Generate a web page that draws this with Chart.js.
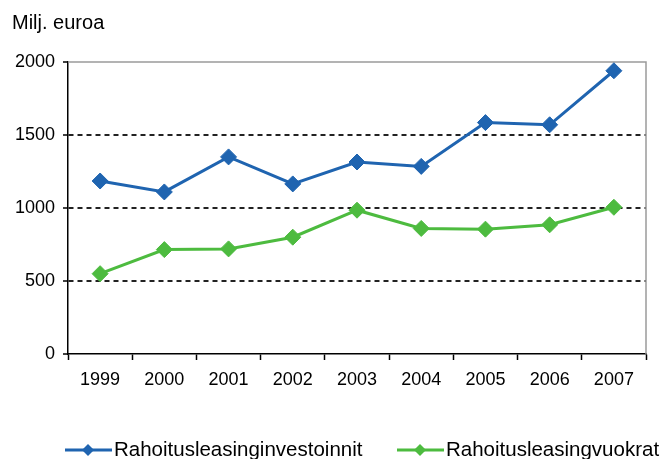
<!DOCTYPE html>
<html>
<head>
<meta charset="utf-8">
<script src="https://cdn.jsdelivr.net/npm/chart.js@4/dist/chart.umd.min.js"></script>
<style>
  html, body { margin: 0; padding: 0; background: #fff; }
  #wrap { width: 660px; height: 459px; }
</style>
</head>
<body>
<div id="wrap"><canvas id="grafLeasing" width="660" height="459"></canvas></div>
<script>
// Data
const vuodet = ['1999', '2000', '2001', '2002', '2003', '2004', '2005', '2006', '2007'];
const investoinnit = [1185, 1110, 1350, 1165, 1315, 1285, 1585, 1570, 1940];
const vuokrat = [550, 715, 720, 800, 985, 860, 855, 885, 1005];
const yAskel = 500;
const yMax = 2000;
const otsikko = 'Milj. euroa';
const sarjat = ['Rahoitusleasinginvestoinnit', 'Rahoitusleasingvuokrat'];

const SININEN = '#1f64b0';
const VIHREA = '#4dbb3f';
const FONTTI = '"Liberation Sans", Arial, sans-serif';

// harmaa kehys ylä- ja oikeaan reunaan
const kehys = {
  id: 'kehys',
  beforeDatasetsDraw(chart) {
    const { ctx, chartArea: a } = chart;
    ctx.save();
    ctx.strokeStyle = '#9a9a9a';
    ctx.lineWidth = 1.5;
    ctx.beginPath();
    ctx.moveTo(a.left, a.top);
    ctx.lineTo(a.right, a.top);
    ctx.lineTo(a.right, a.bottom);
    ctx.stroke();
    ctx.restore();
  }
};

// otsikko ja selite
const tekstit = {
  id: 'tekstit',
  afterDraw(chart) {
    const ctx = chart.ctx;
    ctx.save();
    ctx.fillStyle = '#000';
    ctx.font = '20px ' + FONTTI;
    ctx.textBaseline = 'alphabetic';
    ctx.fillText(otsikko, 12, 29);

    ctx.font = '20.5px ' + FONTTI;
    const kohdat = [{ x: 65, vari: SININEN }, { x: 397, vari: VIHREA }];
    kohdat.forEach((k, i) => {
      const y = 450;
      ctx.strokeStyle = k.vari;
      ctx.lineWidth = 3;
      ctx.beginPath();
      ctx.moveTo(k.x, y);
      ctx.lineTo(k.x + 47, y);
      ctx.stroke();
      ctx.fillStyle = k.vari;
      const cx = k.x + 23, r = 6;
      ctx.beginPath();
      ctx.moveTo(cx, y - r);
      ctx.lineTo(cx + r, y);
      ctx.lineTo(cx, y + r);
      ctx.lineTo(cx - r, y);
      ctx.closePath();
      ctx.fill();
      ctx.fillStyle = '#000';
      ctx.fillText(sarjat[i], k.x + 49, 456);
    });
    ctx.restore();
  }
};

new Chart(document.getElementById('grafLeasing'), {
  type: 'line',
  data: {
    labels: vuodet,
    datasets: [
      {
        label: sarjat[0],
        data: investoinnit,
        borderColor: SININEN,
        backgroundColor: SININEN,
        borderWidth: 3,
        pointStyle: 'rectRot',
        pointRadius: 8,
        pointBorderWidth: 1,
        tension: 0
      },
      {
        label: sarjat[1],
        data: vuokrat,
        borderColor: VIHREA,
        backgroundColor: VIHREA,
        borderWidth: 3,
        pointStyle: 'rectRot',
        pointRadius: 8,
        pointBorderWidth: 1,
        tension: 0
      }
    ]
  },
  options: {
    responsive: false,
    animation: false,
    layout: { padding: { top: 62, right: 14, left: 0, bottom: 0 } },
    plugins: {
      legend: { display: false },
      tooltip: { enabled: false }
    },
    scales: {
      x: {
        offset: true,
        afterFit: s => { s.height = 105; },
        grid: {
          offset: true,
          drawOnChartArea: false,
          drawTicks: true,
          tickLength: 6,
          tickColor: '#000',
          tickWidth: 1.5
        },
        border: { color: '#000', width: 1.5 },
        ticks: { color: '#000', padding: 9, font: { family: FONTTI, size: 18 } }
      },
      y: {
        min: 0,
        max: yMax,
        afterFit: s => { s.width = 68; },
        ticks: {
          stepSize: yAskel,
          color: '#000',
          padding: 8,
          font: { family: FONTTI, size: 18 },
          callback: v => String(v)
        },
        grid: {
          color: c => (c.tick && (c.tick.value === 0 || c.tick.value === yMax)) ? 'rgba(0,0,0,0)' : '#222',
          lineWidth: 2,
          drawTicks: true,
          tickLength: 5,
          tickColor: '#000',
          tickWidth: 1.5
        },
        border: { color: '#000', width: 1.5, dash: [5, 4] }
      }
    }
  },
  plugins: [kehys, tekstit]
});
</script>
</body>
</html>
